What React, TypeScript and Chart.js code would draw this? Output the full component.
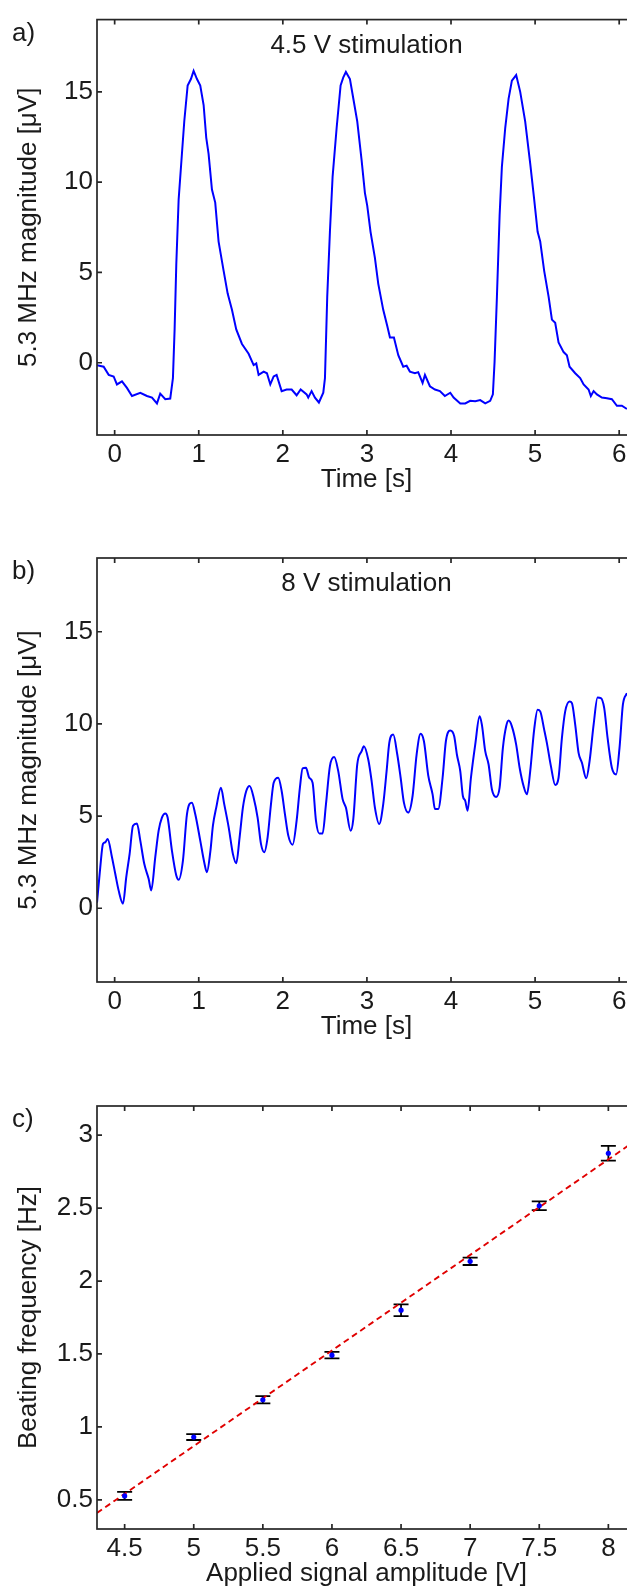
import React, { useEffect, useRef } from 'react';
import { Chart, registerables } from 'chart.js';

Chart.register(...registerables);

const FONT = '"Liberation Sans", Arial, Helvetica, sans-serif';
const TXT = '#1a1a1a';
const FS = 26;

// ---------- Panel a : 4.5 V stimulation ----------
const timeA = [-0.21, -0.131, -0.071, -0.012, 0.027, 0.087, 0.146, 0.206, 0.305, 0.384, 0.444, 0.503, 0.542, 0.602, 0.661, 0.693, 0.713, 0.733, 0.761, 0.8, 0.828, 0.868, 0.907, 0.939, 0.979, 1.018, 1.058, 1.089, 1.117, 1.157, 1.196, 1.236, 1.296, 1.344, 1.395, 1.446, 1.514, 1.593, 1.653, 1.684, 1.712, 1.772, 1.811, 1.851, 1.891, 1.926, 1.986, 2.045, 2.105, 2.164, 2.212, 2.283, 2.302, 2.342, 2.382, 2.429, 2.481, 2.501, 2.528, 2.56, 2.592, 2.64, 2.687, 2.719, 2.75, 2.798, 2.838, 2.885, 2.937, 2.976, 3.004, 3.043, 3.095, 3.135, 3.194, 3.242, 3.274, 3.321, 3.373, 3.432, 3.472, 3.511, 3.571, 3.61, 3.662, 3.69, 3.749, 3.809, 3.868, 3.927, 3.991, 4.031, 4.11, 4.169, 4.228, 4.288, 4.347, 4.407, 4.466, 4.498, 4.518, 4.546, 4.578, 4.605, 4.645, 4.685, 4.724, 4.775, 4.823, 4.882, 4.942, 4.989, 5.03, 5.061, 5.108, 5.161, 5.2, 5.239, 5.279, 5.339, 5.378, 5.41, 5.477, 5.536, 5.577, 5.636, 5.663, 5.696, 5.735, 5.794, 5.854, 5.913, 5.973, 6.032, 6.092];
const magA = [-0.13, -0.22, -0.67, -0.76, -1.2, -1.03, -1.39, -1.84, -1.66, -1.84, -1.93, -2.25, -1.71, -2.02, -1.98, -0.85, 1.85, 5.45, 9.05, 11.57, 13.37, 15.35, 15.71, 16.16, 15.71, 15.35, 14.27, 12.47, 11.57, 9.59, 8.87, 6.71, 5.09, 3.83, 2.93, 1.85, 1.04, 0.5, -0.13, -0.04, -0.67, -0.49, -0.58, -1.2, -0.76, -0.67, -1.57, -1.48, -1.48, -1.8, -1.48, -1.75, -1.93, -1.57, -1.93, -2.2, -1.66, -0.85, 3.65, 7.25, 10.31, 13.01, 15.35, 15.8, 16.1, 15.71, 14.63, 13.37, 11.21, 9.41, 8.69, 7.25, 5.81, 4.37, 2.93, 2.04, 1.4, 1.4, 0.42, -0.22, -0.16, -0.49, -0.58, -0.52, -1.12, -0.67, -1.3, -1.48, -1.57, -1.84, -1.66, -1.93, -2.25, -2.25, -2.11, -2.13, -2.07, -2.25, -2.11, -1.75, 0.05, 3.65, 8.15, 10.85, 13.01, 14.63, 15.62, 15.93, 15.0, 13.37, 11.03, 9.05, 7.25, 6.71, 5.09, 3.65, 2.39, 2.21, 1.13, 0.59, 0.42, -0.22, -0.58, -0.85, -1.2, -1.48, -1.84, -1.57, -1.75, -1.93, -1.96, -2.02, -2.38, -2.38, -2.56];

// ---------- Panel b : 8 V stimulation ----------
const timeB = [-0.21, -0.171, -0.139, -0.112, -0.083, -0.032, 0.007, 0.047, 0.099, 0.138, 0.178, 0.218, 0.265, 0.305, 0.352, 0.404, 0.435, 0.483, 0.523, 0.562, 0.602, 0.63, 0.681, 0.733, 0.761, 0.812, 0.86, 0.919, 0.958, 1.018, 1.065, 1.097, 1.137, 1.169, 1.208, 1.264, 1.303, 1.356, 1.406, 1.446, 1.486, 1.525, 1.565, 1.605, 1.653, 1.7, 1.74, 1.779, 1.819, 1.859, 1.891, 1.945, 1.986, 2.025, 2.065, 2.117, 2.164, 2.203, 2.235, 2.275, 2.314, 2.354, 2.394, 2.433, 2.473, 2.513, 2.56, 2.611, 2.659, 2.711, 2.75, 2.806, 2.838, 2.885, 2.937, 2.964, 3.016, 3.056, 3.095, 3.146, 3.194, 3.234, 3.266, 3.313, 3.361, 3.401, 3.44, 3.491, 3.543, 3.591, 3.638, 3.678, 3.729, 3.781, 3.809, 3.848, 3.9, 3.939, 3.991, 4.038, 4.07, 4.11, 4.141, 4.169, 4.197, 4.237, 4.288, 4.34, 4.367, 4.407, 4.447, 4.486, 4.537, 4.578, 4.617, 4.656, 4.685, 4.724, 4.775, 4.816, 4.863, 4.903, 4.942, 4.989, 5.03, 5.061, 5.108, 5.14, 5.188, 5.239, 5.279, 5.319, 5.358, 5.41, 5.438, 5.477, 5.517, 5.557, 5.608, 5.648, 5.696, 5.743, 5.782, 5.822, 5.862, 5.913, 5.964, 6.004, 6.044, 6.092];
const magB = [0.3, 2.23, 3.49, 3.58, 3.76, 2.77, 1.87, 0.97, 0.25, 1.69, 2.95, 4.48, 4.6, 3.67, 2.41, 1.6, 0.97, 2.77, 4.21, 4.92, 5.14, 4.92, 3.13, 1.78, 1.55, 2.59, 5.11, 5.73, 5.11, 3.67, 2.5, 1.96, 3.04, 4.49, 5.46, 6.54, 5.65, 4.39, 2.95, 2.44, 3.85, 5.46, 6.36, 6.63, 6.0, 4.92, 3.49, 3.04, 3.85, 5.65, 6.81, 7.08, 6.36, 5.11, 3.94, 3.45, 4.75, 6.54, 7.59, 7.62, 7.08, 6.81, 4.75, 4.06, 4.06, 5.65, 7.71, 8.2, 7.44, 5.92, 5.46, 4.21, 4.84, 7.8, 8.52, 8.79, 8.07, 6.9, 5.46, 4.57, 5.65, 7.44, 8.97, 9.42, 8.34, 7.08, 5.73, 5.19, 6.09, 8.34, 9.46, 9.06, 7.21, 6.18, 5.38, 5.38, 7.08, 9.06, 9.64, 9.33, 8.34, 7.44, 6.09, 5.83, 5.29, 7.08, 8.88, 10.41, 9.96, 8.52, 7.8, 6.46, 6.04, 6.54, 8.7, 9.87, 10.18, 9.87, 8.88, 7.62, 6.63, 6.18, 7.44, 9.69, 10.77, 10.68, 9.69, 8.97, 7.71, 6.69, 7.08, 9.24, 10.68, 11.22, 11.13, 9.96, 8.43, 7.89, 7.05, 7.98, 9.96, 11.43, 11.4, 10.86, 9.24, 7.62, 7.26, 8.7, 11.04, 11.67];

// ---------- Panel c : beating frequency vs amplitude ----------
const ampV = [4.5, 5, 5.5, 6, 6.5, 7, 7.5, 8];
const beatHz = [0.527, 0.93, 1.186, 1.492, 1.8, 2.135, 2.516, 2.876];
const beatErr = [0.028, 0.02, 0.025, 0.022, 0.04, 0.025, 0.03, 0.05];
const fitV = [4.3, 8.2];
const fitHz = [0.41, 2.965];

// ---------- tick values ----------
const timeTicks = [0, 1, 2, 3, 4, 5, 6];
const magTicks = [0, 5, 10, 15];
const ampTicks = [4.5, 5, 5.5, 6, 6.5, 7, 7.5, 8];
const hzTicks = [0.5, 1, 1.5, 2, 2.5, 3];

const CW = 680;
const PLOT_LEFT = 97;
const PLOT_RIGHT = 636;

const decor = {
  id: 'decor',
  beforeDatasetsDraw(chart: any, _args: any, opts: any) {
    if (!opts.err) return;
    const { ctx } = chart;
    const x = chart.scales.x;
    const y = chart.scales.y;
    ctx.save();
    ctx.strokeStyle = '#000';
    ctx.lineWidth = 1.8;
    opts.err.x.forEach((v: number, i: number) => {
      const px = x.getPixelForValue(v);
      const lo = y.getPixelForValue(opts.err.y[i] - opts.err.e[i]);
      const hi = y.getPixelForValue(opts.err.y[i] + opts.err.e[i]);
      ctx.beginPath();
      ctx.moveTo(px, lo);
      ctx.lineTo(px, hi);
      ctx.moveTo(px - 7.5, lo);
      ctx.lineTo(px + 7.5, lo);
      ctx.moveTo(px - 7.5, hi);
      ctx.lineTo(px + 7.5, hi);
      ctx.stroke();
    });
    ctx.restore();
  },
  afterDraw(chart: any, _args: any, opts: any) {
    const { ctx, chartArea: a } = chart;
    const x = chart.scales.x;
    const y = chart.scales.y;
    ctx.save();
    ctx.strokeStyle = '#262626';
    ctx.lineWidth = 1.7;
    ctx.strokeRect(a.left, a.top, a.right - a.left, a.bottom - a.top);
    ctx.beginPath();
    x.ticks.forEach((t: any) => {
      const p = x.getPixelForValue(t.value);
      ctx.moveTo(p, a.bottom);
      ctx.lineTo(p, a.bottom - 5);
      ctx.moveTo(p, a.top);
      ctx.lineTo(p, a.top + 5);
    });
    y.ticks.forEach((t: any) => {
      const p = y.getPixelForValue(t.value);
      ctx.moveTo(a.left, p);
      ctx.lineTo(a.left + 5, p);
      ctx.moveTo(a.right, p);
      ctx.lineTo(a.right - 5, p);
    });
    ctx.stroke();

    ctx.fillStyle = TXT;
    ctx.font = `${FS}px ${FONT}`;
    ctx.textBaseline = 'alphabetic';
    ctx.textAlign = 'left';
    ctx.fillText(opts.letter, 12, a.top + 21);
    const cx = (a.left + a.right) / 2;
    ctx.textAlign = 'center';
    if (opts.title) ctx.fillText(opts.title, cx, a.top + 33);
    ctx.fillText(opts.xTitle, cx, a.bottom + 52);
    ctx.translate(36, (a.top + a.bottom) / 2);
    ctx.rotate(-Math.PI / 2);
    ctx.fillText(opts.yTitle, 0, 0);
    ctx.restore();
  },
};

function makeScales(h: number, bottomPx: number, xr: number[], yr: number[], xt: number[], yt: number[]) {
  const tickFont = { family: FONT, size: FS };
  return {
    x: {
      type: 'linear',
      min: xr[0],
      max: xr[1],
      grid: { display: false, drawTicks: false },
      border: { display: false },
      afterBuildTicks: (s: any) => {
        s.ticks = xt.map((v) => ({ value: v }));
      },
      afterFit: (s: any) => {
        s.height = h - bottomPx;
      },
      ticks: {
        padding: 4,
        font: tickFont,
        color: TXT,
        maxRotation: 0,
        autoSkip: false,
        callback: (v: any) => String(v),
      },
    },
    y: {
      type: 'linear',
      min: yr[0],
      max: yr[1],
      grid: { display: false, drawTicks: false },
      border: { display: false },
      afterBuildTicks: (s: any) => {
        s.ticks = yt.map((v) => ({ value: v }));
      },
      afterFit: (s: any) => {
        s.width = PLOT_LEFT;
      },
      ticks: {
        padding: 4,
        font: tickFont,
        color: TXT,
        autoSkip: false,
        callback: (v: any) => String(v),
      },
    },
  };
}

function baseOptions(h: number, topPx: number, bottomPx: number, xr: number[], yr: number[], xt: number[], yt: number[], decorOpts: any) {
  return {
    responsive: false,
    animation: false,
    events: [],
    layout: { padding: { left: 0, right: CW - PLOT_RIGHT, top: topPx, bottom: 0 } },
    plugins: {
      legend: { display: false },
      tooltip: { enabled: false },
      decor: decorOpts,
    },
    scales: makeScales(h, bottomPx, xr, yr, xt, yt),
  };
}

function useChart(ref: React.RefObject<HTMLCanvasElement>, build: () => any) {
  useEffect(() => {
    if (!ref.current) return;
    const chart = new Chart(ref.current, build());
    return () => chart.destroy();
  }, []);
}

export default function App() {
  const refA = useRef<HTMLCanvasElement>(null);
  const refB = useRef<HTMLCanvasElement>(null);
  const refC = useRef<HTMLCanvasElement>(null);

  const HA = 500, HB = 540, HC = 546;

  useChart(refA, () => ({
    type: 'scatter',
    data: {
      datasets: [
        {
          data: timeA.map((t, i) => ({ x: t, y: magA[i] })),
          showLine: true,
          borderColor: '#0000ff',
          borderWidth: 2,
          pointRadius: 0,
          tension: 0,
        },
      ],
    },
    options: baseOptions(HA, 10, 435, [-0.21, 6.2], [-4, 19], timeTicks, magTicks, {
      letter: 'a)',
      title: '4.5 V stimulation',
      xTitle: 'Time [s]',
      yTitle: '5.3 MHz magnitude [\u03BCV]',
    }),
    plugins: [decor],
  }));

  useChart(refB, () => ({
    type: 'scatter',
    data: {
      datasets: [
        {
          data: timeB.map((t, i) => ({ x: t, y: magB[i] })),
          showLine: true,
          borderColor: '#0000ff',
          borderWidth: 2,
          pointRadius: 0,
          cubicInterpolationMode: 'monotone',
        },
      ],
    },
    options: baseOptions(HB, 58, 482, [-0.21, 6.2], [-4, 19], timeTicks, magTicks, {
      letter: 'b)',
      title: '8 V stimulation',
      xTitle: 'Time [s]',
      yTitle: '5.3 MHz magnitude [\u03BCV]',
    }),
    plugins: [decor],
  }));

  useChart(refC, () => ({
    type: 'scatter',
    data: {
      datasets: [
        {
          data: ampV.map((v, i) => ({ x: v, y: beatHz[i] })),
          showLine: false,
          backgroundColor: '#0000ff',
          borderColor: '#0000ff',
          pointRadius: 2.6,
          borderWidth: 0,
        },
        {
          data: fitV.map((v, i) => ({ x: v, y: fitHz[i] })),
          showLine: true,
          borderColor: '#e00000',
          borderWidth: 1.9,
          borderDash: [6, 4],
          pointRadius: 0,
        },
      ],
    },
    options: baseOptions(HC, 66, 489, [4.3, 8.2], [0.3, 3.2], ampTicks, hzTicks, {
      letter: 'c)',
      xTitle: 'Applied signal amplitude [V]',
      yTitle: 'Beating frequency [Hz]',
      err: { x: ampV, y: beatHz, e: beatErr },
    }),
    plugins: [decor],
  }));

  const cs = (top: number): React.CSSProperties => ({ position: 'absolute', left: 0, top, display: 'block' });

  return (
    <div
      style={{
        position: 'absolute',
        left: 0,
        top: 0,
        width: 627,
        height: 1586,
        overflow: 'hidden',
        background: '#ffffff',
      }}
    >
      <canvas ref={refA} width={CW} height={HA} style={cs(0)} />
      <canvas ref={refB} width={CW} height={HB} style={cs(500)} />
      <canvas ref={refC} width={CW} height={HC} style={cs(1040)} />
    </div>
  );
}
